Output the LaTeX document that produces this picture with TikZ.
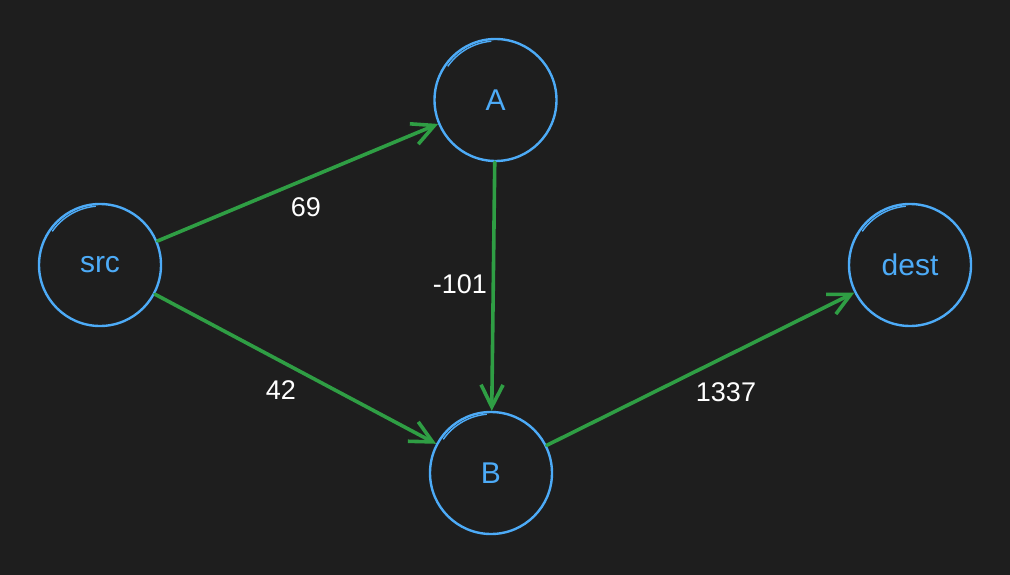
\documentclass[tikz,border=0pt]{standalone}
\usepackage{fontspec}
\setmainfont{Liberation Sans}
\usetikzlibrary{arrows.meta}
\definecolor{bg}{HTML}{1E1E1E}
\definecolor{nodeblue}{HTML}{4DABF7}
\definecolor{edgegreen}{HTML}{2F9E44}
\tikzset{
  vertex/.style={circle, draw=nodeblue, line width=2.4pt, minimum size=122pt, inner sep=0pt,
    text=nodeblue, font=\fontsize{30}{32}\selectfont},
  sketch/.style={draw=nodeblue, line width=1.4pt},
  edge/.style={draw=edgegreen, line width=3.6pt, line cap=round,
    -{Straight Barb[length=22pt,width=22pt,line width=3.6pt]}},
  weight/.style={text=white, font=\fontsize{27}{29}\selectfont, inner sep=0pt}
}
\begin{document}
\begin{tikzpicture}[x=1pt,y=-1pt]
\fill[bg] (0,0) rectangle (1010,575);
\useasboundingbox (0,0) rectangle (1010,575);

\node[vertex] (src) at (100,265) {src};
\node[vertex] (A) at (495.5,100) {A};
\node[vertex] (B) at (491,473) {B};
\node[vertex] (dest) at (910,265) {dest};

% hand-drawn overlap strokes
\foreach \n in {src,A,B,dest}{
  \draw[sketch] ([shift={(1pt,-0.5pt)}]\n.center) ++(95:59.5pt) arc[start angle=95, end angle=145, radius=59.5pt];
}

\draw[edge] (src) -- (A);
\draw[edge] (src) -- (B);
\draw[edge] (A) -- (B);
\draw[edge] (B) -- (dest);

\node[weight] (w69) at (306,207) {69};
\node[weight] (w42) at (281,390) {42};
\node[weight] (w101) at (460,284) {-101};
\node[weight] (w1337) at (726,392) {1337};
\end{tikzpicture}
\end{document}
